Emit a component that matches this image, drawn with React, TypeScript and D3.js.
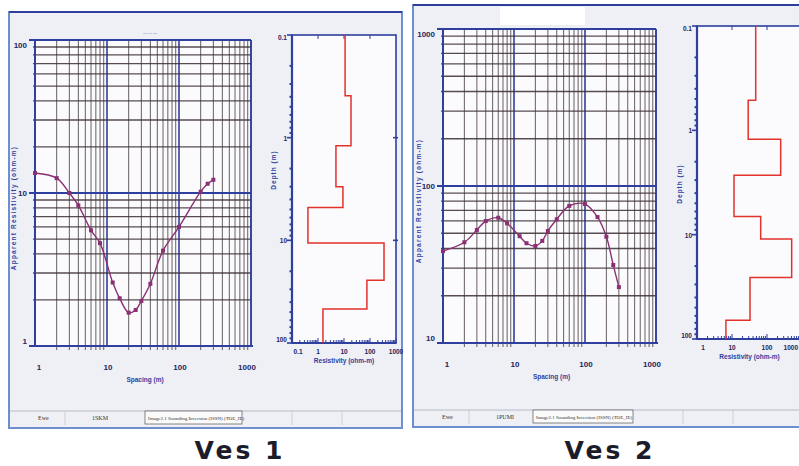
import React from 'react';
import * as d3 from 'd3';

// VES 1 sounding curve (AB/2 spacing in m, apparent resistivity in ohm-m)
const ves1Spacing = [1, 2, 3, 4, 6, 8, 12, 15, 20, 25, 30, 40, 60, 100, 200, 250, 300];
const ves1Rho = [13.5, 12.5, 10, 8.3, 5.7, 4.7, 2.6, 2.05, 1.65, 1.72, 1.97, 2.55, 4.2, 6.0, 10.2, 11.5, 12.2];

// VES 1 layered model (resistivity of each layer, depth of each layer base)
const ves1LayerRho = [11, 18.6, 4.9, 9.1, 0.41, 346, 76, 1.55];
const ves1LayerBase = [0.39, 1.2, 3.0, 4.8, 10.6, 24.5, 46.7, 100];

// VES 2 sounding curve
const ves2Spacing = [1, 2, 3, 4, 6, 8, 12, 15, 20, 25, 30, 40, 60, 100, 150, 200, 250, 300];
const ves2Rho = [38.5, 43.8, 52.5, 59.8, 62.8, 57.8, 47.9, 43.2, 41.5, 44.7, 51.7, 61.4, 74.7, 76.7, 63.4, 47.5, 31.4, 22.7];

// VES 2 layered model
const ves2LayerRho = [47.6, 29, 246, 11.4, 66, 507, 32.7, 6.7];
const ves2LayerBase = [0.515, 1.22, 2.7, 6.7, 11, 25.8, 66, 100];

// tick labels
const spacingTicks = [1, 10, 100, 1000];
const ves1RhoTicks = [1, 10, 100];
const ves2RhoTicks = [10, 100, 1000];
const depthTicks = [0.1, 1, 10, 100];
const ves1ModelTicks = [0.1, 1, 10, 100, 1000];
const ves2ModelTicks = [1, 10, 100, 1000];

const BLUE = '#2f3f9e';
const GRID = '#3b2f33';
const CURVE = '#8a2f72';
const RED = '#e2322b';
const LABEL = '#1e2560';
const FONT = 'Liberation Sans Narrow, Liberation Sans, Arial, sans-serif';

// minor values inside a log domain
const logMinors = (lo: number, hi: number) => {
  const out: number[] = [];
  for (let d = lo; d < hi; d *= 10) {
    for (let k = 1; k < 10; k++) out.push(+(d * k).toPrecision(3));
  }
  out.push(hi);
  return out;
};

const isDecade = (v: number) => Math.abs(Math.log10(v) - Math.round(Math.log10(v))) < 1e-6;

type CurveProps = {
  x0: number; x1: number; y0: number; y1: number;
  xDomain: [number, number]; yDomain: [number, number];
  spacing: number[]; rho: number[]; yTicks: number[];
  yTitleX: number;
};

const SoundingCurve = ({ x0, x1, y0, y1, xDomain, yDomain, spacing, rho, yTicks, yTitleX }: CurveProps) => {
  const x = d3.scaleLog().domain(xDomain).range([x0, x1]);
  const y = d3.scaleLog().domain(yDomain).range([y1, y0]);
  const xs = logMinors(xDomain[0], xDomain[1]);
  const ys = logMinors(yDomain[0], yDomain[1]);
  const pts = spacing.map((s, i) => [x(s), y(rho[i])] as [number, number]);
  const line = d3.line().curve(d3.curveCatmullRom.alpha(0.5))(pts) || '';

  return (
    <g>
      <rect x={x0} y={y0} width={x1 - x0} height={y1 - y0} fill="#fbfbfe" />
      {/* vertical grid */}
      {xs.map((v, i) => (
        <line key={'vx' + i} x1={x(v)} x2={x(v)} y1={y0} y2={y1 + (isDecade(v) ? 0 : 4)}
          stroke={isDecade(v) ? BLUE : GRID} strokeWidth={isDecade(v) ? 1.6 : 0.9} opacity={isDecade(v) ? 1 : 0.85} />
      ))}
      {/* horizontal grid */}
      {ys.map((v, i) => (
        <line key={'hy' + i} x1={x0 - (isDecade(v) ? 6 : 2)} x2={x1} y1={y(v)} y2={y(v)}
          stroke={isDecade(v) ? BLUE : GRID} strokeWidth={isDecade(v) ? 2 : 1.3} opacity={isDecade(v) ? 1 : 0.85} />
      ))}
      <line x1={x0} x2={x0} y1={y0} y2={y1} stroke={BLUE} strokeWidth={2} />
      <line x1={x1} x2={x1} y1={y0} y2={y1} stroke={BLUE} strokeWidth={1.6} />
      <line x1={x0 - 5} x2={x1 + 2} y1={y1} y2={y1} stroke={BLUE} strokeWidth={2} />
      <line x1={x0} x2={x1} y1={y0} y2={y0} stroke={BLUE} strokeWidth={2} />
      {/* curve */}
      <path d={line} fill="none" stroke={CURVE} strokeWidth={1.4} />
      {pts.map((p, i) => (
        <rect key={'p' + i} x={p[0] - 2} y={p[1] - 2} width={4} height={4} fill={CURVE} />
      ))}
      {/* tick labels */}
      {spacingTicks.map((t) => (
        <text key={'xt' + t} x={x(t) + (t === 1 ? 4 : t === 1000 ? -4 : 1)} y={y1 + 24} fontSize={8} fontWeight="bold"
          fill={LABEL} textAnchor="middle" fontFamily={FONT}>{String(t)}</text>
      ))}
      {yTicks.map((t) => (
        <text key={'yt' + t} x={x0 - 8} y={y(t) + (t === yDomain[1] ? 8 : t === yDomain[0] ? -2 : 3)} fontSize={8} fontWeight="bold"
          fill={LABEL} textAnchor="end" fontFamily={FONT}>{String(t)}</text>
      ))}
      <text x={(x0 + x1) / 2 + 2} y={y1 + 36} fontSize={6.5} fontWeight="bold" fill={BLUE}
        textAnchor="middle" fontFamily={FONT}>Spacing (m)</text>
      <text transform={`translate(${yTitleX},${(y0 + y1) / 2 + 15}) rotate(-90)`} fontSize={6.5} fontWeight="bold"
        fill={BLUE} textAnchor="middle" fontFamily={FONT} letterSpacing={1.2}>Apparent Resistivity (ohm-m)</text>
    </g>
  );
};

type ModelProps = {
  x0: number; x1: number; y0: number; y1: number;
  xDomain: [number, number]; layerRho: number[]; layerBase: number[];
  xTicks: number[]; titleX: number; titleY: number;
};

const ModelPanel = ({ x0, x1, y0, y1, xDomain, layerRho, layerBase, xTicks, titleX, titleY }: ModelProps) => {
  const x = d3.scaleLog().domain(xDomain).range([x0, x1]);
  const y = d3.scaleLog().domain([0.1, 100]).range([y0, y1]);
  const ys = logMinors(0.1, 100);
  const xs = logMinors(xDomain[0], xDomain[1]);

  // step path of the layered model
  const steps: [number, number][] = [];
  let top = 0.1;
  layerRho.forEach((r, i) => {
    steps.push([x(r), y(top)]);
    steps.push([x(r), y(layerBase[i])]);
    top = layerBase[i];
  });
  const stepPath = d3.line()(steps) || '';

  return (
    <g>
      <rect x={x0} y={y0} width={x1 - x0} height={y1 - y0} fill="#fbfbfe" />
      <rect x={x0} y={y0} width={x1 - x0} height={y1 - y0} fill="none" stroke={BLUE} strokeWidth={1.6} />
      <line x1={x0} x2={x0} y1={y0} y2={y1} stroke={BLUE} strokeWidth={2.2} />
      <line x1={x0} x2={x1} y1={y1} y2={y1} stroke={BLUE} strokeWidth={2.2} />
      {ys.map((v, i) => (
        <line key={'dy' + i} x1={x0 - (isDecade(v) ? 5 : 2.5)} x2={x0} y1={y(v)} y2={y(v)}
          stroke={BLUE} strokeWidth={isDecade(v) ? 1.6 : 2} />
      ))}
      {[1, 10].map((v) => (
        <line key={'rt' + v} x1={x1 - 3} x2={x1 + 2} y1={y(v)} y2={y(v)} stroke={BLUE} strokeWidth={1.6} />
      ))}
      {xs.map((v, i) => (
        <line key={'mx' + i} x1={x(v)} x2={x(v)} y1={y1} y2={y1 - (isDecade(v) ? 5 : 3)}
          stroke={BLUE} strokeWidth={1} />
      ))}
      {xTicks.slice(1, -1).map((v) => (
        <line key={'tx' + v} x1={x(v)} x2={x(v)} y1={y0} y2={y0 + 4} stroke={BLUE} strokeWidth={1} />
      ))}
      <path d={stepPath} fill="none" stroke={RED} strokeWidth={1.5} />
      {depthTicks.map((t) => (
        <text key={'dt' + t} x={x0 - 5} y={y(t) + (t === 0.1 ? 5 : t === 100 ? -1 : 3)} fontSize={6.5} fontWeight="bold"
          fill={LABEL} textAnchor="end" fontFamily={FONT}>{String(t)}</text>
      ))}
      {xTicks.map((t) => {
        const px = x(t) + (t === xDomain[0] ? 6 : 0);
        const beyond = px > 790;
        return (
          <text key={'rx' + t} x={beyond ? 798 : px} y={y1 + 11} fontSize={6.5} fontWeight="bold"
            fill={LABEL} textAnchor={beyond ? 'end' : 'middle'} fontFamily={FONT}>{String(t)}</text>
        );
      })}
      <text x={(x0 + x1) / 2} y={y1 + 20} fontSize={6.5} fontWeight="bold" fill={BLUE}
        textAnchor="middle" fontFamily={FONT}>Resistivity (ohm-m)</text>
      <text transform={`translate(${titleX},${titleY}) rotate(-90)`} fontSize={6.5} fontWeight="bold"
        fill={BLUE} textAnchor="middle" fontFamily={FONT} letterSpacing={1}>Depth (m)</text>
    </g>
  );
};

const Footer = ({ x0, x1, y, site, code, boxX0, boxX1 }: { x0: number; x1: number; y: number; site: string; code: string; boxX0: number; boxX1: number }) => (
  <g fontFamily="Liberation Serif, serif" fontSize={6} fill="#333">
    <line x1={x0} x2={x1} y1={y} y2={y} stroke="#a9adb8" strokeWidth={0.8} />
    {[x0 + 55, boxX1 + 50, boxX1 + 100].map((v, i) => (
      <line key={i} x1={v} x2={v} y1={y} y2={y + 14} stroke="#c3c6cf" strokeWidth={0.8} />
    ))}
    <rect x={boxX0} y={y} width={boxX1 - boxX0} height={13} fill="#fafafa" stroke="#555" strokeWidth={0.7} />
    <text x={x0 + 28} y={y + 9}>{site}</text>
    <text x={x0 + 82} y={y + 9}>{code}</text>
    <text x={boxX0 + 3} y={y + 9} fontSize={5}>Image2.1 Sounding Inversion (ISSN) (TOE_IE)</text>
  </g>
);

export default function App() {
  return (
    <svg width={799} height={466} viewBox="0 0 799 466"
      style={{ position: 'absolute', left: 0, top: 0, background: '#ffffff' }}>
      {/* VES 1 sheet */}
      <rect x={9} y={12} width={393} height={416} fill="#eef0f6" stroke="#6d8fd0" strokeWidth={2} />
      <line x1={9} x2={402} y1={12} y2={12} stroke={BLUE} strokeWidth={2} />
      <text x={150} y={34} fontSize={4} fill={BLUE} textAnchor="middle" fontFamily={FONT}>— — —</text>
      <SoundingCurve x0={35} x1={251} y0={40} y1={346} xDomain={[1, 1000]} yDomain={[1, 100]}
        spacing={ves1Spacing} rho={ves1Rho} yTicks={ves1RhoTicks} yTitleX={16} />
      <ModelPanel x0={292} x1={396} y0={35} y1={343} xDomain={[0.1, 1000]}
        layerRho={ves1LayerRho} layerBase={ves1LayerBase} xTicks={ves1ModelTicks} titleX={276} titleY={170} />
      <Footer x0={10} x1={401} y={411} site="Ewe" code="1SKM" boxX0={145} boxX1={242} />

      {/* VES 2 sheet */}
      <rect x={413} y={5} width={400} height={422} fill="#eef0f6" stroke="#6d8fd0" strokeWidth={2} />
      <line x1={413} x2={799} y1={5} y2={5} stroke={BLUE} strokeWidth={2} />
      <rect x={500} y={7} width={85} height={18} fill="#ffffff" />
      <SoundingCurve x0={443} x1={656} y0={29} y1={343} xDomain={[1, 1000]} yDomain={[10, 1000]}
        spacing={ves2Spacing} rho={ves2Rho} yTicks={ves2RhoTicks} yTitleX={421} />
      <ModelPanel x0={697} x1={802} y0={26} y1={339} xDomain={[1, 1000]}
        layerRho={ves2LayerRho} layerBase={ves2LayerBase} xTicks={ves2ModelTicks} titleX={682} titleY={184} />
      <Footer x0={414} x1={799} y={410} site="Ewe" code="1PUMI" boxX0={533} boxX1={633} />

      {/* captions */}
      <text x={240} y={459} fontSize={25} fontWeight="bold" fill="#1c1c2a" textAnchor="middle"
        fontFamily="DejaVu Sans, sans-serif" letterSpacing={3}>Ves 1</text>
      <text x={610} y={459} fontSize={25} fontWeight="bold" fill="#1c1c2a" textAnchor="middle"
        fontFamily="DejaVu Sans, sans-serif" letterSpacing={3}>Ves 2</text>
    </svg>
  );
}
